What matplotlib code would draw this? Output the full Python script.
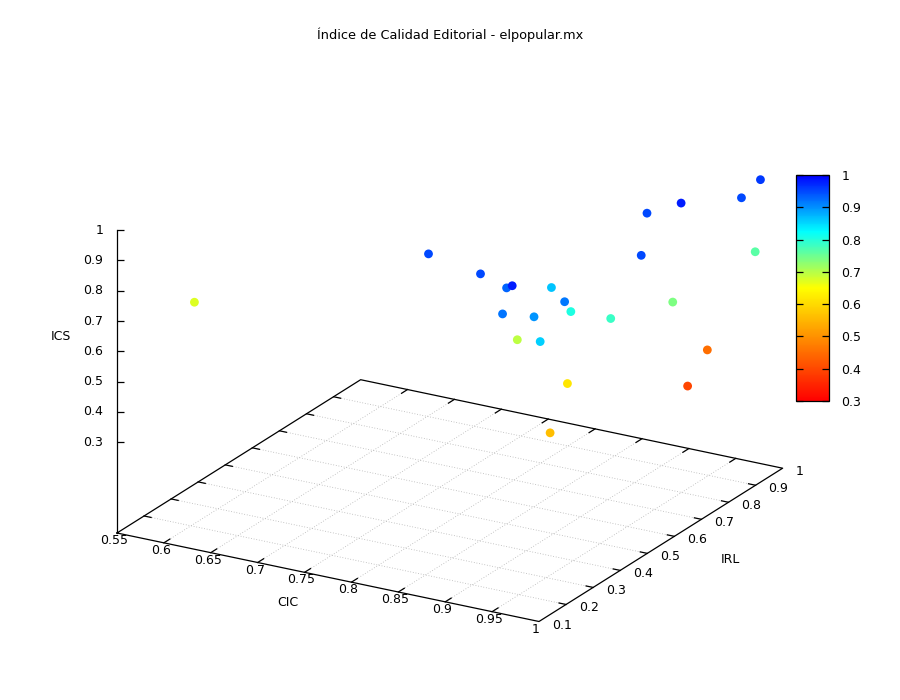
import numpy as np
import matplotlib
matplotlib.use("Agg")
import matplotlib.pyplot as plt
from matplotlib.colors import LinearSegmentedColormap, Normalize
from mpl_toolkits.mplot3d import proj3d

plt.rcParams['font.family'] = ['DejaVu Sans']

title = "Índice de Calidad Editorial - elpopular.mx"
x_label, y_label, z_label = "CIC", "IRL", "ICS"

# data (CIC, IRL, ICS) per observation
CIC = [0.810, 0.877, 0.908, 0.929, 0.918, 0.967, 0.933, 0.959, 0.989, 0.985,
       0.982, 0.997, 0.985, 0.941, 0.934, 0.954, 0.974, 0.892, 0.975, 0.963,
       0.957, 0.972, 0.985, 0.578]
IRL = [0.350, 0.310, 0.299, 0.247, 0.430, 0.309, 0.731, 0.767, 0.886, 0.970,
       0.540, 0.909, 0.646, 0.422, 0.194, 0.241, 0.455, 0.394, 0.191, 0.850,
       0.354, 0.746, 0.193, 0.289]
ICS = [0.950, 0.950, 0.930, 0.980, 0.864, 0.917, 0.950, 0.980, 0.950, 0.960,
       0.950, 0.764, 0.738, 0.804, 0.920, 0.897, 0.784, 0.695, 0.857, 0.451,
       0.615, 0.396, 0.561, 0.674]

x_ticks = [0.55, 0.6, 0.65, 0.7, 0.75, 0.8, 0.85, 0.9, 0.95, 1.0]
x_ticklabels = ["0.55", "0.6", "0.65", "0.7", "0.75", "0.8", "0.85", "0.9", "0.95", "1"]
y_ticks = [0.1, 0.2, 0.3, 0.4, 0.5, 0.6, 0.7, 0.8, 0.9, 1.0]
y_ticklabels = ["0.1", "0.2", "0.3", "0.4", "0.5", "0.6", "0.7", "0.8", "0.9", "1"]
z_ticks = [0.3, 0.4, 0.5, 0.6, 0.7, 0.8, 0.9, 1.0]
z_ticklabels = ["0.3", "0.4", "0.5", "0.6", "0.7", "0.8", "0.9", "1"]
cb_ticks = z_ticks
cb_ticklabels = z_ticklabels

xlim = (0.55, 1.0)
ylim = (0.1, 1.0)
zlim = (0.0, 1.0)
cmin, cmax = 0.3, 1.0

FS = 9
cmap = LinearSegmentedColormap.from_list(
    "gp", [(0.0, "#ff0000"), (0.5, "#ffff00"), (0.75, "#00ffff"), (1.0, "#0000ff")])
norm = Normalize(cmin, cmax)

fig = plt.figure(figsize=(9, 7), dpi=100)
ax = fig.add_axes([0.05, 0.05, 0.8, 0.8], projection='3d', proj_type='ortho')
ax.view_init(elev=21.3, azim=-60)
ax.set_box_aspect((1, 1, 0.667))
ax.set_axis_off()
ax.computed_zorder = False

# dotted grid on base plane
gkw = dict(color='#b4b4b4', lw=0.6, ls=(0, (1, 2.2)), zorder=1, clip_on=False)
for xt in x_ticks[1:-1]:
    ax.plot([xt, xt], [ylim[0], ylim[1]], [zlim[0], zlim[0]], **gkw)
for yt in y_ticks[1:-1]:
    ax.plot([xlim[0], xlim[1]], [yt, yt], [zlim[0], zlim[0]], **gkw)

# base border + z axis
bkw = dict(color='black', lw=0.9, zorder=2, clip_on=False)
ax.plot([xlim[0], xlim[1], xlim[1], xlim[0], xlim[0]],
        [ylim[0], ylim[0], ylim[1], ylim[1], ylim[0]],
        [zlim[0]] * 5, **bkw)
ax.plot([xlim[0], xlim[0]], [ylim[0], ylim[0]], [zlim[0], zlim[1]], **bkw)

# tick marks (inward, mirrored)
tx = 0.022
ty = 0.0075
for xt in x_ticks[1:-1]:
    ax.plot([xt, xt], [ylim[0], ylim[0] + tx], [0, 0], **bkw)
    ax.plot([xt, xt], [ylim[1], ylim[1] - tx], [0, 0], **bkw)
for yt in y_ticks[1:-1]:
    ax.plot([xlim[1], xlim[1] - ty], [yt, yt], [0, 0], **bkw)
    ax.plot([xlim[0], xlim[0] + ty], [yt, yt], [0, 0], **bkw)
ax.plot([xlim[0]] * len(z_ticks), [ylim[0]] * len(z_ticks), z_ticks,
        ls='none', marker=1, ms=5.2, mew=0.9, color='black', zorder=2, clip_on=False)

# points
ax.scatter(CIC, IRL, ICS, c=ICS, cmap=cmap, norm=norm, s=40,
           depthshade=False, edgecolors='none', zorder=3)

ax.set_xlim(*xlim)
ax.set_ylim(*ylim)
ax.set_zlim(*zlim)

fig.text(0.5, 1 - 35 / 700, title, ha='center', va='center', fontsize=9.3)

# colorbar
cax = fig.add_axes([796 / 900, 1 - 401 / 700, 33 / 900, 226 / 700])
sm = plt.cm.ScalarMappable(norm=norm, cmap=cmap)
cb = fig.colorbar(sm, cax=cax, ticks=cb_ticks)
cb.ax.set_yticklabels(cb_ticklabels)
cax.tick_params(axis='y', direction='in', length=5, width=0.9, left=True, right=True,
                labelsize=FS, pad=9)
cb.outline.set_linewidth(0.9)


def disp(x, y, z):
    xs, ys, _ = proj3d.proj_transform(np.array([x]), np.array([y]), np.array([z]), ax.get_proj())
    return ax.transData.transform((xs[0], ys[0]))


# calibrate 3D axes placement so the base plane sits where intended
W, H = fig.bbox.width, fig.bbox.height
target_O = np.array([117.0, H - 533.0])
target_dx = 539.0 - 117.0
for _ in range(3):
    fig.canvas.draw()
    O = disp(xlim[0], ylim[0], zlim[0])
    X = disp(xlim[1], ylim[0], zlim[0])
    f = target_dx / (X[0] - O[0])
    bb = ax.get_position(original=True)
    cx = (bb.x0 + bb.x1) / 2 * W
    cy = (bb.y0 + bb.y1) / 2 * H
    ncx = target_O[0] - f * (O[0] - cx)
    ncy = target_O[1] - f * (O[1] - cy)
    nw, nh = bb.width * f, bb.height * f
    ax.set_position([ncx / W - nw / 2, ncy / H - nh / 2, nw, nh])
fig.canvas.draw()


def place(x, y, z, s, dx, dy, **kw):
    p = disp(x, y, z)
    fig.text((p[0] + dx) / W, (p[1] + dy) / H, s, fontsize=FS, **kw)


for xt, lab in zip(x_ticks, x_ticklabels):
    place(xt, ylim[0], zlim[0], lab, -3, -7.5, ha='center', va='center')
for yt, lab in zip(y_ticks, y_ticklabels):
    place(xlim[1], yt, zlim[0], lab, 13, -3.5, ha='left', va='center')
for zt, lab in zip(z_ticks, z_ticklabels):
    place(xlim[0], ylim[0], zt, lab, -13.7, 0, ha='right', va='center')

place((xlim[0] + xlim[1]) / 2, ylim[0], zlim[0], x_label, -40, -25.5, ha='center', va='center')
place(xlim[1], (ylim[0] + ylim[1]) / 2, zlim[0], y_label, 69.5, -14.7, ha='center', va='center')
place(xlim[0], ylim[0], 0.65, z_label, -56.3, 0, ha='center', va='center')

fig.savefig("out.png", dpi=100)
